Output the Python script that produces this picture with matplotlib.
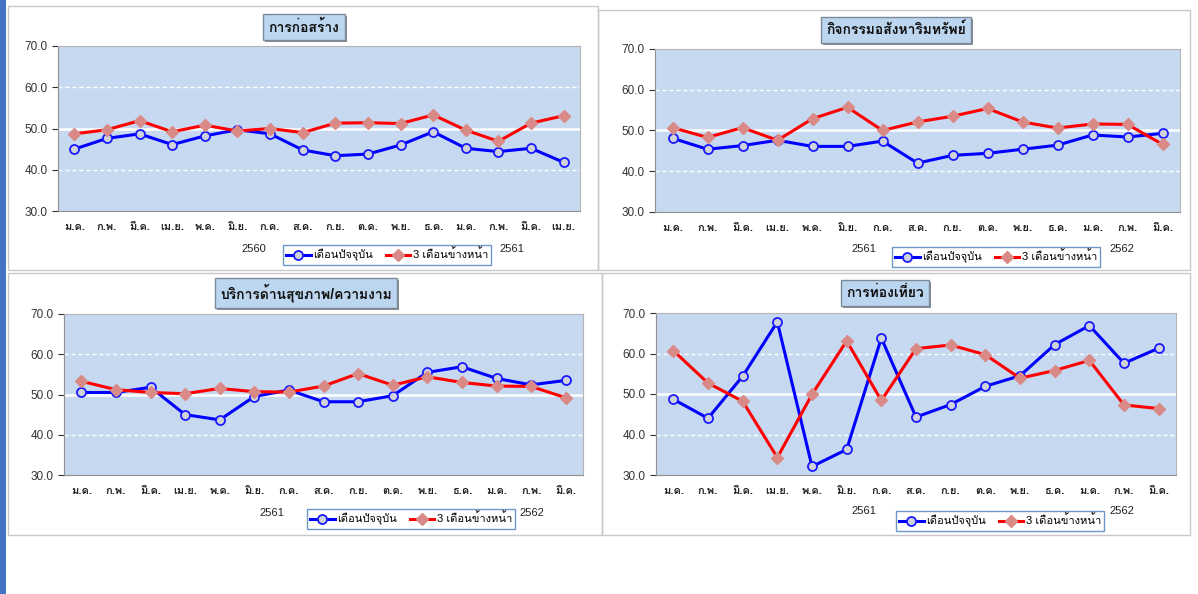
import matplotlib
matplotlib.use("Agg")
import matplotlib.pyplot as plt
from matplotlib import font_manager
from matplotlib.ft2font import FT2Font
from matplotlib.patches import Rectangle
from matplotlib.transforms import ScaledTranslation

# data
months_a = ["ม.ค.", "ก.พ.", "มี.ค.", "เม.ย.", "พ.ค.", "มิ.ย.", "ก.ค.", "ส.ค.",
            "ก.ย.", "ต.ค.", "พ.ย.", "ธ.ค.", "ม.ค.", "ก.พ.", "มี.ค.", "เม.ย."]
months_b = months_a[:15]

construct_now = [45.0, 47.6, 48.7, 46.1, 48.2, 49.7, 48.7, 44.8,
                 43.4, 43.8, 46.0, 49.2, 45.2, 44.4, 45.2, 41.8]
construct_next = [48.7, 49.7, 51.9, 49.2, 50.8, 49.4, 50.0, 49.0,
                  51.3, 51.4, 51.2, 53.3, 49.6, 46.9, 51.3, 53.1]

estate_now = [48.1, 45.4, 46.3, 47.6, 46.1, 46.1, 47.4, 42.0,
              43.9, 44.4, 45.4, 46.4, 48.9, 48.4, 49.3]
estate_next = [50.7, 48.3, 50.7, 47.6, 52.9, 55.7, 50.0, 52.1,
               53.5, 55.4, 52.1, 50.6, 51.6, 51.5, 46.6]

health_now = [50.5, 50.5, 51.8, 45.0, 43.7, 49.5, 51.1, 48.2,
              48.2, 49.7, 55.5, 56.9, 54.0, 52.4, 53.5]
health_next = [53.3, 51.2, 50.5, 50.2, 51.5, 50.7, 50.6, 52.1,
               55.2, 52.3, 54.4, 53.0, 52.1, 52.0, 49.2]

tour_now = [48.7, 44.0, 54.4, 67.8, 32.1, 36.3, 63.8, 44.3,
            47.4, 51.9, 54.5, 62.2, 66.9, 57.6, 61.3]
tour_next = [60.7, 52.7, 48.2, 34.3, 49.9, 63.1, 48.4, 61.2,
             62.1, 59.7, 53.9, 55.8, 58.3, 47.3, 46.4]

titles = ["การก่อสร้าง", "กิจกรรมอสังหาริมทรัพย์", "บริการด้านสุขภาพ/ความงาม", "การท่องเที่ยว"]
legend_labels = ["เดือนปัจจุบัน", "3 เดือนข้างหน้า"]
years = [("2560", "2561"), ("2561", "2562"), ("2561", "2562"), ("2561", "2562")]


def find_thai_font():
    for f in font_manager.fontManager.ttflist:
        try:
            if FT2Font(f.fname).get_char_index(0x0E01):
                return f.name
        except Exception:
            pass
    return "DejaVu Sans"


thai = find_thai_font()
plt.rcParams["font.family"] = ["Liberation Sans", thai, "DejaVu Sans"]

W, H = 1198, 594
fig = plt.figure(figsize=(W / 100, H / 100), dpi=100)
fig.patch.set_facecolor("white")


def px_rect(x0, y0, x1, y1):
    return [x0 / W, 1 - y1 / H, (x1 - x0) / W, (y1 - y0) / H]


# left blue bar and panel frames
fig.patches.append(Rectangle((0, 0), 6 / W, 1, transform=fig.transFigure,
                             facecolor="#4472c4", edgecolor="none"))
for (x0, y0, x1, y1) in [(8, 6, 598, 270), (598, 10, 1190, 270),
                         (8, 273, 602, 535), (602, 273, 1190, 535)]:
    fig.patches.append(Rectangle((x0 / W, 1 - y1 / H), (x1 - x0) / W, (y1 - y0) / H,
                                 transform=fig.transFigure, facecolor="none",
                                 edgecolor="#c8c8c8", lw=1))

panels = [
    (construct_now, construct_next, months_a, (58, 46, 580, 211), (304, 27), (387, 255), (254, 249), (512, 249)),
    (estate_now, estate_next, months_b, (655, 49, 1180, 212), (896, 30), (996, 257), (864, 249), (1122, 249)),
    (health_now, health_next, months_b, (64, 314, 583, 475), (306, 293), (411, 519), (272, 513), (532, 513)),
    (tour_now, tour_next, months_b, (656, 313, 1176, 475), (885, 293), (1000, 521), (864, 511), (1122, 511)),
]

shadow = ScaledTranslation(2 / 100, -2 / 100, fig.dpi_scale_trans)

for i, (now, nxt, labels, rect, tpos, lpos, y1pos, y2pos) in enumerate(panels):
    ax = fig.add_axes(px_rect(*rect))
    ax.set_facecolor("#c6d9f1")
    x = list(range(len(now)))
    ax.axhline(50, color="white", lw=1.8, zorder=1)
    for g in (40, 60):
        ax.axhline(g, color="white", lw=1, ls=(0, (3, 2)), zorder=1)
    l1, = ax.plot(x, now, color="#0000ff", lw=2.2, marker="o", ms=6.5,
                  mfc="#cfd3dc", mec="#1a1aff", mew=1.3, zorder=3)
    l2, = ax.plot(x, nxt, color="#ff0000", lw=2.2, marker="D", ms=6,
                  mfc="#d98a86", mec="#d98a86", zorder=4)
    ax.set_xlim(-0.5, len(now) - 0.5)
    ax.set_ylim(30, 70)
    ax.set_yticks([30, 40, 50, 60, 70])
    ax.set_yticklabels([f"{v:.1f}" for v in [30, 40, 50, 60, 70]])
    ax.set_xticks(x)
    ax.set_xticklabels(labels, fontweight="bold")
    ax.tick_params(axis="y", labelsize=8.5, colors="#333333", length=4, width=0.8)
    ax.tick_params(axis="x", labelsize=8, colors="#222222", length=0, pad=8)
    for s in ax.spines.values():
        s.set_color("#b4b4b4")
        s.set_linewidth(0.8)
    ax.spines["left"].set_color("#909090")
    ax.spines["bottom"].set_color("#909090")

    tx, ty = tpos[0] / W, 1 - tpos[1] / H
    fig.text(tx, ty, titles[i], ha="center", va="center", fontsize=10,
             fontweight="bold", color="none", transform=fig.transFigure + shadow,
             bbox=dict(boxstyle="square,pad=0.4", fc="#8c8c8c", ec="none"))
    fig.text(tx, ty, titles[i], ha="center", va="center", fontsize=10,
             fontweight="bold", color="#111111",
             bbox=dict(boxstyle="square,pad=0.4", fc="#bdd6ef", ec="#7a8a9a", lw=1))
    fig.text(y1pos[0] / W, 1 - y1pos[1] / H, years[i][0], ha="center", va="center",
             fontsize=8, color="#222222")
    fig.text(y2pos[0] / W, 1 - y2pos[1] / H, years[i][1], ha="center", va="center",
             fontsize=8, color="#222222")
    leg = ax.legend([l1, l2], legend_labels, loc="center",
                    bbox_to_anchor=(lpos[0] / W, 1 - lpos[1] / H),
                    bbox_transform=fig.transFigure, ncol=2, fontsize=8,
                    frameon=True, fancybox=False, borderpad=0.3,
                    handlelength=2.2, columnspacing=1.2, handletextpad=0.2)
    leg.get_frame().set_edgecolor("#4a7ebb")
    leg.get_frame().set_linewidth(1)

fig.savefig("out.png", dpi=100)
